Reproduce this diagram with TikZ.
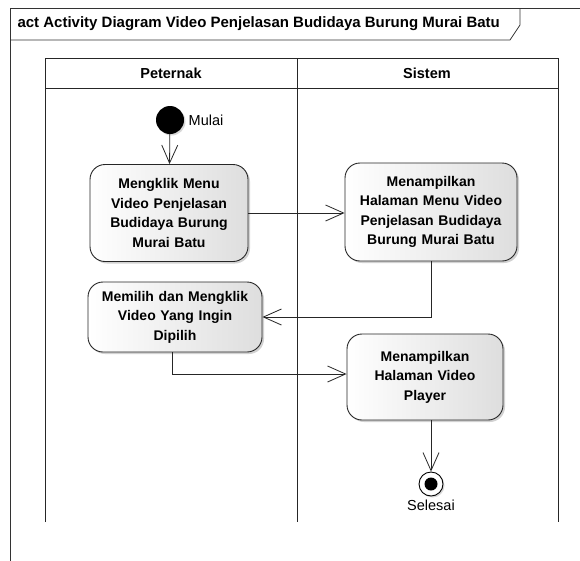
\documentclass[tikz,border=0pt]{standalone}
\usepackage{fontspec}
\setmainfont{Liberation Sans}
\usetikzlibrary{arrows.meta,positioning,shadows}
\tikzset{
	action_style/.style = {shape=rectangle, rounded corners=15pt, draw=black!85, line width=0.9pt, left color=white, right color=black!13, drop shadow={opacity=0.35, shadow xshift=2pt, shadow yshift=-2pt}, align=center, inner sep=2pt, font=\fontsize{14}{19.5}\selectfont\bfseries},
	edge_style/.style = {draw=black!85, line width=0.8pt, -{Straight Barb[length=18pt,width=16pt]}},
	lane_style/.style = {draw=black!85, line width=0.9pt}
}

\begin{document}
\begin{tikzpicture}[x=1pt, y=-1pt]
	\useasboundingbox[fill=white] (0,0) rectangle (580,560);
	\clip (0,0) rectangle (580,560);

	% frame
	\draw[line width=0.9pt, draw=black!80] (10,580) -- (10,8) -- (590,8);
	\draw[line width=0.8pt, draw=black!80] (10,40) -- (510,40) -- (520,25) -- (520,8);
	\node[anchor=west, font=\fontsize{15}{16}\selectfont\bfseries] (judul) at (14,24) {act Activity Diagram Video Penjelasan Budidaya Burung Murai Batu};

	% swimlanes
	\draw[lane_style] (45,522) -- (45,58) -- (558,58) -- (558,522);
	\draw[lane_style] (45,88) -- (558,88);
	\draw[lane_style] (297,58) -- (297,522);
	\node[font=\fontsize{14.5}{16}\selectfont\bfseries] (peternak) at (171,73) {Peternak};
	\node[font=\fontsize{14.5}{16}\selectfont\bfseries] (sistem) at (427,73) {Sistem};

	% nodes
	\node[circle, fill=black, minimum size=28pt, inner sep=0pt, drop shadow={opacity=0.3, shadow xshift=1.5pt, shadow yshift=-1.5pt}] (mulai) at (170,120) {};
	\node[right=1pt of mulai, font=\fontsize{14.5}{16}\selectfont] (mulai_lbl) {Mulai};

	\node[action_style, minimum width=158pt, minimum height=97pt, text width=152pt] (klik_menu) at (169,213) {Mengklik Menu\\Video Penjelasan\\Budidaya Burung\\Murai Batu};
	\node[action_style, minimum width=172pt, minimum height=98pt, text width=168pt] (tampil_menu) at (431,212) {Menampilkan\\Halaman Menu Video\\Penjelasan Budidaya\\Burung Murai Batu};
	\node[action_style, minimum width=174pt, minimum height=70pt, text width=170pt] (pilih_video) at (175,317) {Memilih dan Mengklik\\Video Yang Ingin\\Dipilih};
	\node[action_style, minimum width=156pt, minimum height=86pt, text width=150pt] (tampil_player) at (425,377) {Menampilkan\\Halaman Video\\Player};

	\node[circle, draw=black, line width=0.9pt, fill=white, minimum size=24pt, inner sep=0pt, drop shadow={opacity=0.3, shadow xshift=1.5pt, shadow yshift=-1.5pt}] (selesai) at (431,484) {};
	\node[circle, fill=black, minimum size=13pt, inner sep=0pt] (selesai_dot) at (selesai) {};
	\node[below=0pt of selesai, font=\fontsize{14.5}{16}\selectfont] (selesai_lbl) {Selesai};

	% edges
	\draw[edge_style] (mulai) -- (klik_menu);
	\draw[edge_style] (klik_menu.east) -- (klik_menu.east -| tampil_menu.west);
	\draw[edge_style] (tampil_menu.south) |- (pilih_video.east);
	\draw[edge_style] ([xshift=-3pt]pilih_video.south) |- ([yshift=3pt]tampil_player.west);
	\draw[edge_style] ([xshift=6pt]tampil_player.south) -- (selesai);
\end{tikzpicture}
\end{document}
